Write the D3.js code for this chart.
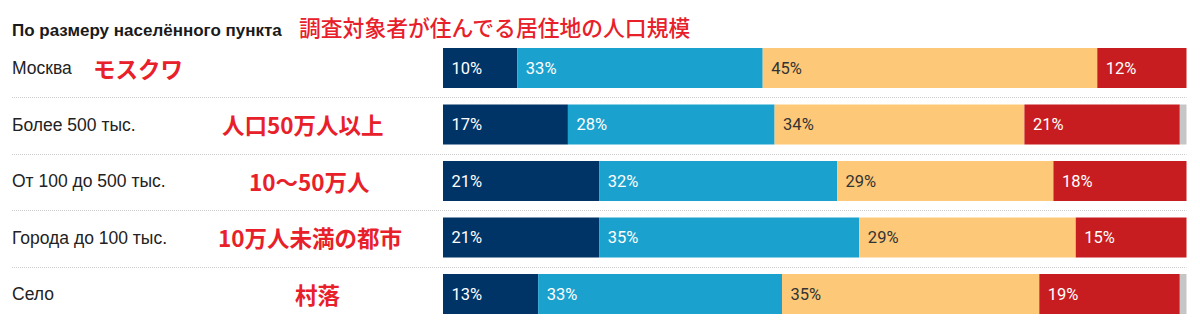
<!DOCTYPE html>
<html>
<head>
<meta charset="utf-8">
<script src="https://cdn.jsdelivr.net/npm/d3@7"></script>
<style>
  html, body { margin: 0; padding: 0; background: #fff; }
  svg { display: block; }
</style>
</head>
<body>
<svg id="chart" width="1200" height="331"></svg>
<script>
// ---- data ----
const categories = ["Москва", "Более 500 тыс.", "От 100 до 500 тыс.", "Города до 100 тыс.", "Село"];
const categoriesJa = ["モスクワ", "人口50万人以上", "10～50万人", "10万人未満の都市", "村落"];
const seriesNames = ["s1", "s2", "s3", "s4", "s5"];
const s1 = [10, 16.8, 21, 21, 12.8];
const s2 = [33, 27.8, 32, 35, 32.8];
const s3 = [45, 33.6, 29.1, 29.1, 34.6];
const s4 = [12, 20.9, 17.9, 14.9, 18.9];
const s5 = [0, 0.9, 0, 0, 0.9];
const titleRu = "По размеру населённого пункта";
const titleJa = "調査対象者が住んでる居住地の人口規模";

// ---- layout / style (not data) ----
const colors = ["#003366", "#1aa1cd", "#fdc978", "#c81d20", "#c6c6c6"];
const textColors = ["#fff", "#fff", "#333", "#fff", "#333"];
const jaLeft = [93, 222, 249, 218, 295];

const svg = d3.select("#chart");
const table = categories.map((c, i) => ({ cat: c, ja: categoriesJa[i], s1: s1[i], s2: s2[i], s3: s3[i], s4: s4[i], s5: s5[i] }));
const stack = d3.stack().keys(seriesNames)(table);

const x = d3.scaleLinear().domain([0, 100]).range([443, 1186.5]);
const y = d3.scaleBand().domain(categories).range([31.5, 330.5]).padding(0.292);
const color = d3.scaleOrdinal().domain(seriesNames).range(colors);
const tcolor = d3.scaleOrdinal().domain(seriesNames).range(textColors);

// separators
svg.append("g").selectAll("line")
  .data(categories.slice(0, -1))
  .join("line")
  .attr("x1", 12).attr("x2", 1186.5)
  .attr("y1", d => Math.round(y(d) + y.bandwidth() + (y.step() - y.bandwidth()) / 2) + 1.5)
  .attr("y2", d => Math.round(y(d) + y.bandwidth() + (y.step() - y.bandwidth()) / 2) + 1.5)
  .attr("stroke", "#cccccc").attr("stroke-width", 1).attr("stroke-dasharray", "1,1");

// titles
svg.append("text").attr("x", 12).attr("y", 35.5)
  .attr("font-family", "'Liberation Sans', Arial, sans-serif").attr("font-weight", "bold")
  .attr("font-size", 17).attr("fill", "#1a1a1a").text(titleRu);
svg.append("text").attr("x", 299).attr("y", 36)
  .attr("font-family", "'Noto Sans CJK JP', sans-serif").attr("font-weight", 500)
  .attr("font-size", 21.8).attr("fill", "#e8202a").text(titleJa);

// row labels
svg.append("g").selectAll("text")
  .data(table)
  .join("text")
  .attr("x", 12)
  .attr("y", d => y(d.cat) + y.bandwidth() / 2)
  .attr("dy", "0.35em")
  .attr("font-family", "'Liberation Sans', Arial, sans-serif")
  .attr("font-size", 17.5).attr("fill", "#222")
  .text(d => d.cat);

svg.append("g").selectAll("text")
  .data(table)
  .join("text")
  .attr("x", (d, i) => jaLeft[i])
  .attr("y", d => y(d.cat) + y.bandwidth() / 2 + 2)
  .attr("dy", "0.35em")
  .attr("font-family", "'Noto Sans CJK JP', sans-serif").attr("font-weight", "bold")
  .attr("font-size", 22.5).attr("fill", "#e8202a")
  .text(d => d.ja);

// bars
const groups = svg.append("g").selectAll("g")
  .data(stack)
  .join("g")
  .attr("fill", d => color(d.key));

groups.selectAll("rect")
  .data(d => d.map(v => Object.assign(v, { key: d.key })))
  .join("rect")
  .attr("x", d => x(d[0]))
  .attr("y", d => y(d.data.cat))
  .attr("width", d => Math.max(0, x(d[1]) - x(d[0])))
  .attr("height", y.bandwidth());

// value labels
const fmt = d3.format(".0f");
groups.selectAll("text")
  .data(d => d.filter(v => v.key !== "s5" && (v[1] - v[0]) > 3))
  .join("text")
  .attr("x", d => x(d[0]) + 8.5)
  .attr("y", d => y(d.data.cat) + y.bandwidth() / 2)
  .attr("dy", "0.36em")
  .attr("font-family", "Roboto, sans-serif")
  .attr("font-size", 16.5)
  .attr("fill", d => tcolor(d.key))
  .text(d => fmt(d[1] - d[0]) + "%");
</script>
</body>
</html>
